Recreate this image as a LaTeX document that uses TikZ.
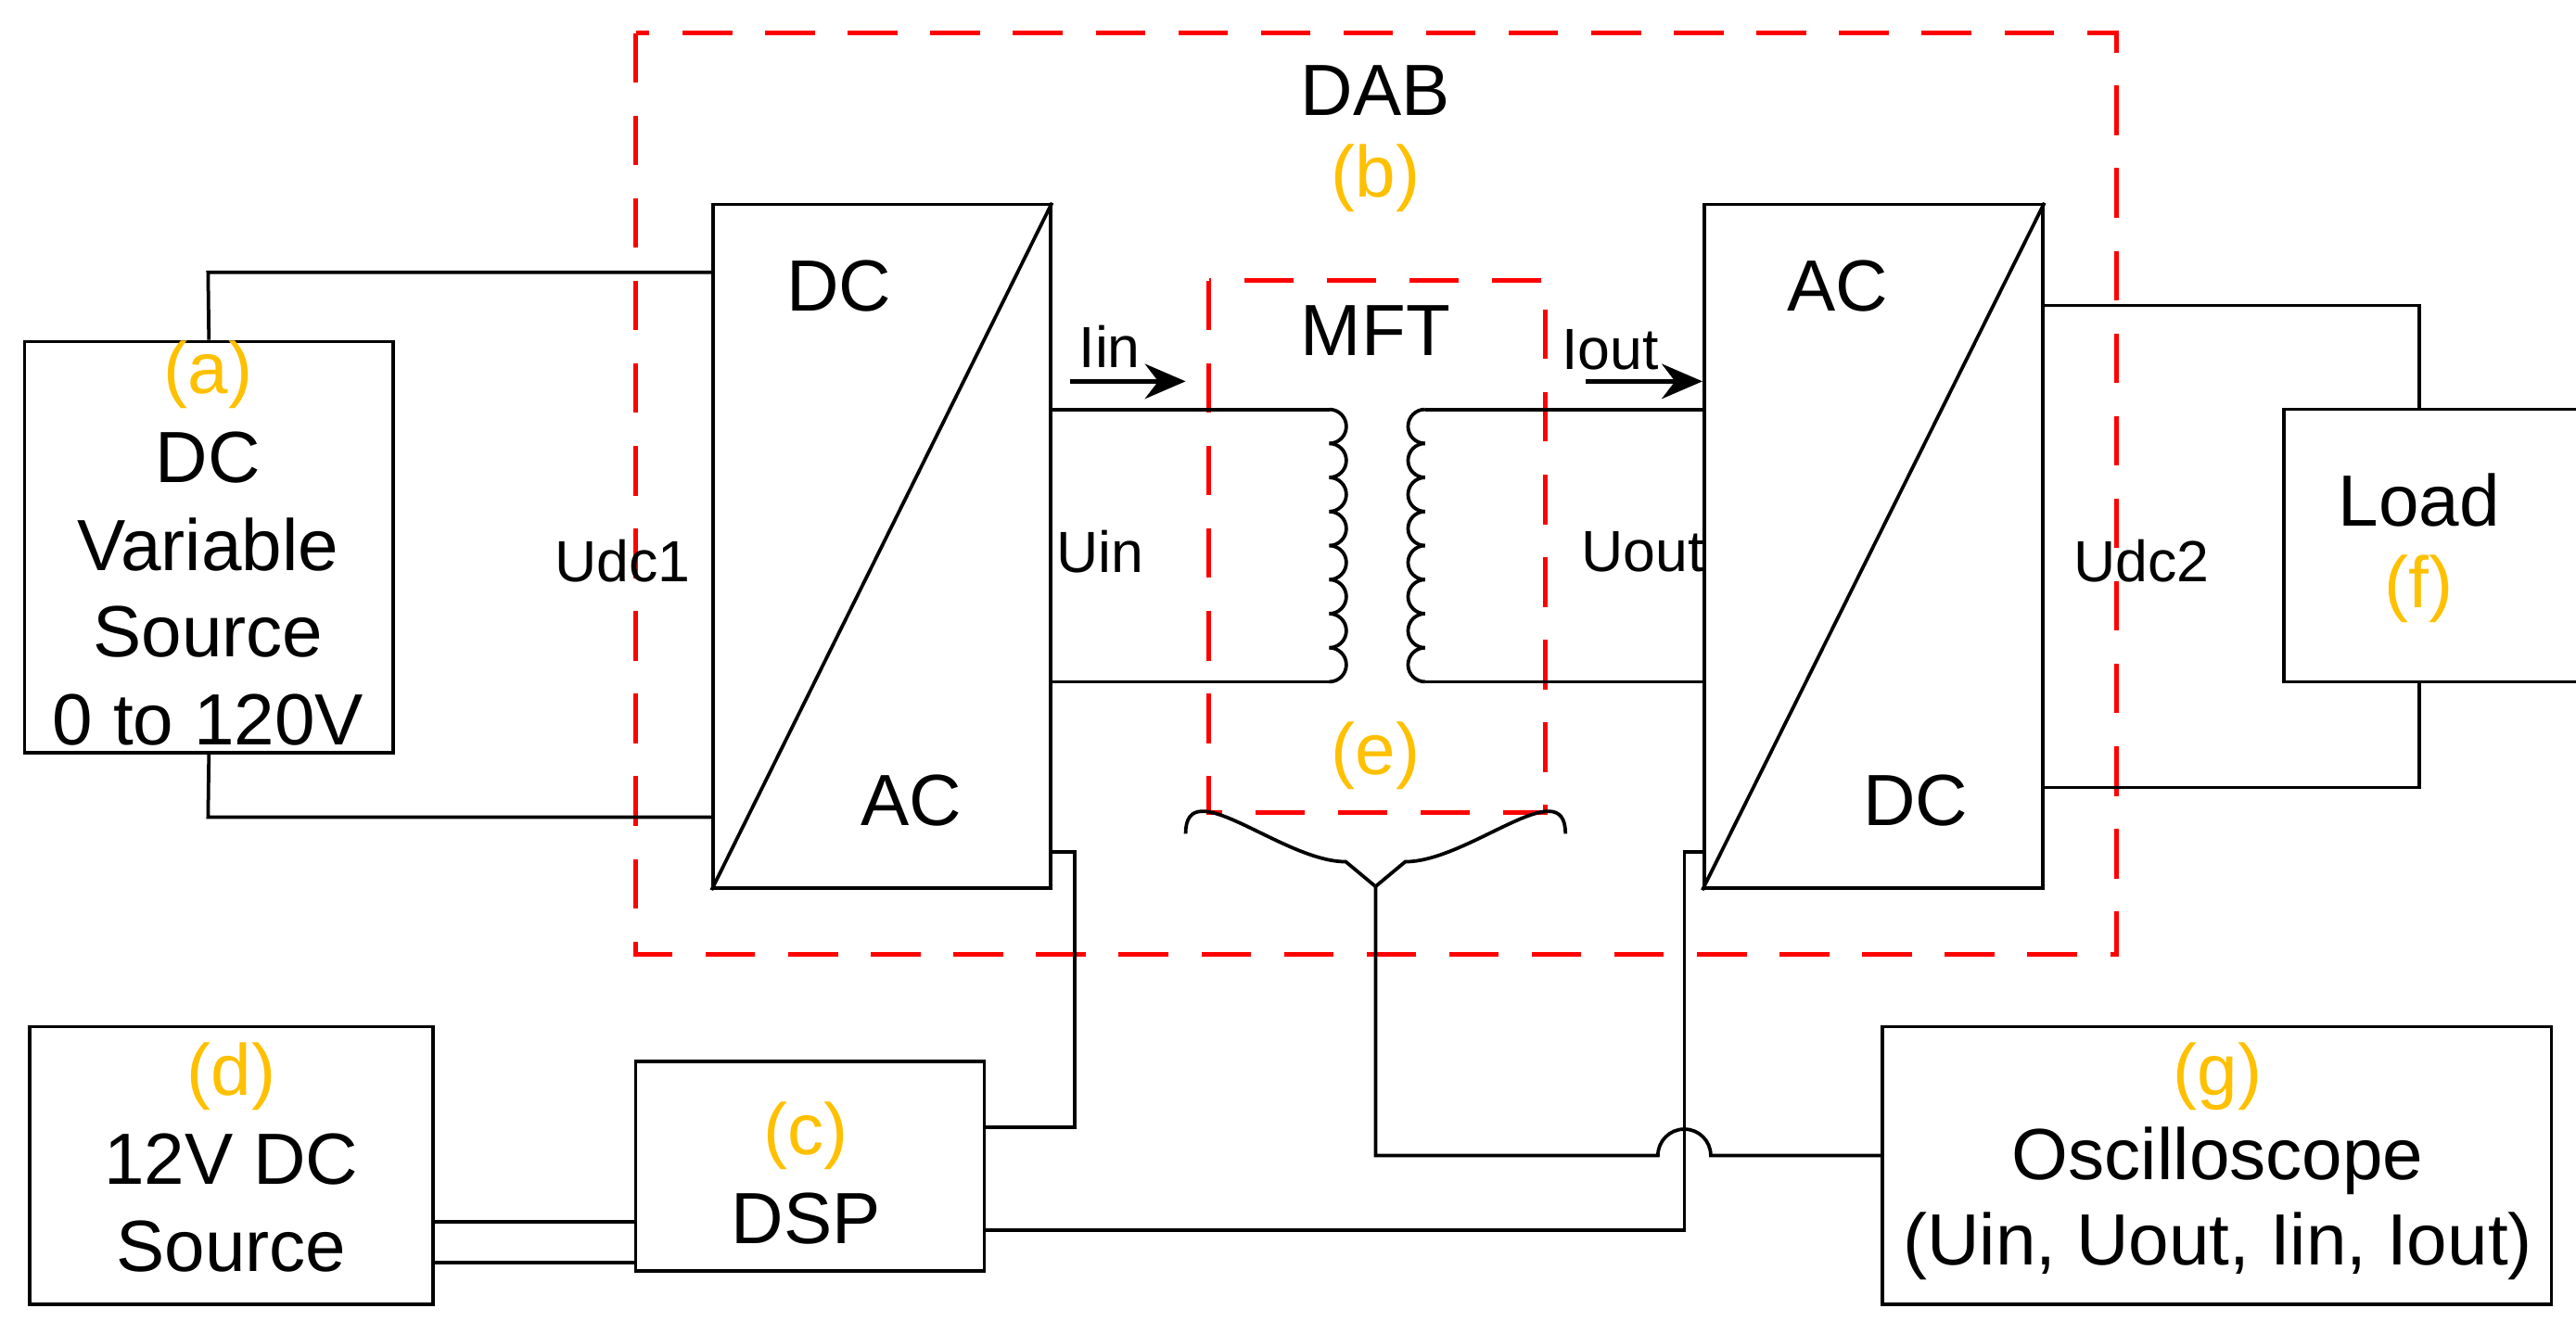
\documentclass[tikz,border=0pt]{standalone}
\usepackage{fontspec}
\setmainfont{Liberation Sans}
\usetikzlibrary{arrows.meta}
\definecolor{lab}{HTML}{FFC000}
\begin{document}
\begin{tikzpicture}[x=0.01cm,y=-0.01cm,line width=0.6pt,
  box/.style={draw,rectangle,inner sep=0pt},
  dab/.style={draw=red,line width=0.8pt,dash pattern=on 0.3cm off 0.2cm},
  big/.style={font=\fontsize{12.5}{14}\selectfont,inner sep=0pt},
  sm/.style={font=\fontsize{10}{12}\selectfont,inner sep=0pt},
  org/.style={big,text=lab},
  arr/.style={-{Stealth[length=7pt,width=6pt]},line width=0.8pt}]
\useasboundingbox (0,0) rectangle (1560,800);
% DAB and MFT dashed boxes
\draw[dab] (385,20) rectangle (1282,578);
\draw[dab] (732,170) rectangle (936,492);
% boxes
\node[box,minimum width=2.23cm,minimum height=2.49cm] (src) at (126.5,331.5) {};
\node[box,minimum width=2.04cm,minimum height=4.14cm] (c1) at (534,331) {};
\node[box,minimum width=2.05cm,minimum height=4.14cm] (c2) at (1134.5,331) {};
\node[box,minimum width=1.80cm,minimum height=1.65cm] (load) at (1473,330.5) {};
\node[box,minimum width=2.44cm,minimum height=1.68cm] (v12) at (140,706) {};
\node[box,minimum width=2.11cm,minimum height=1.27cm] (dsp) at (490.5,706.5) {};
\node[box,minimum width=4.05cm,minimum height=1.68cm] (osc) at (1342.5,706) {};
\draw (c1.south west) -- (c1.north east);
\draw (c2.south west) -- (c2.north east);
% texts
\node[big] at (833,55) {DAB};
\node[org] at (833,108) {(b)};
\node[big] at (508,173) {DC};
\node[big] at (552,485) {AC};
\node[big] at (1113,173) {AC};
\node[big] at (1160,485) {DC};
\node[big] at (833,200) {MFT};
\node[org] at (833,458) {(e)};
\node[org] at (126,227) {(a)};
\node[big] at (126,277) {DC};
\node[big] at (126,330) {Variable};
\node[big] at (126,383) {Source};
\node[big] at (126,436) {0 to 120V};
\node[big] at (1465,303) {Load};
\node[org] at (1465,357) {(f)};
\node[org] at (140,652) {(d)};
\node[big] at (140,702) {12V DC};
\node[big] at (140,755) {Source};
\node[org] at (488,688) {(c)};
\node[big] at (488,738) {DSP};
\node[org] at (1343,652) {(g)};
\node[big] at (1343,703) {Oscilloscope};
\node[big] at (1343,755) {(Uin, Uout, Iin, Iout)};
\node[sm] at (377,340) {Udc1};
\node[sm] at (666,334) {Uin};
\node[sm] at (995,334) {Uout};
\node[sm] at (1297,340) {Udc2};
\node[sm] at (672,210) {Iin};
\node[sm] at (975,212) {Iout};
% source wires
\coordinate (s1) at (126,165); \coordinate (s2) at (126,495);
\draw (src.north) -- (s1) -- (s1 -| c1.west);
\draw (src.south) -- (s2) -- (s2 -| c1.west);
% load wires
\coordinate (l1) at (1465,185); \coordinate (l2) at (1465,477);
\draw (l1 -| c2.east) -- (l1) -- (l1 |- load.north);
\draw (l2 -| c2.east) -- (l2) -- (l2 |- load.south);
% transformer
\coordinate (p1) at (805,248); \coordinate (p2) at (805,413);
\coordinate (q1) at (863,248); \coordinate (q2) at (863,413);
\draw (p1 -| c1.east) -- (p1);
\draw (p2 -| c1.east) -- (p2);
\draw (q1) -- (q1 -| c2.west);
\draw (q2) -- (q2 -| c2.west);
\foreach \i in {0,...,7}{
  \draw (805,248+20.625*\i) arc[start angle=90,end angle=-90,radius=0.103cm];
  \draw (863,248+20.625*\i) arc[start angle=90,end angle=270,radius=0.103cm];
}
% current arrows
\coordinate (a1) at (648,231); \coordinate (a2) at (718,231);
\draw[arr] (a1) -- (a2);
\coordinate (b1) at (960,231); \coordinate (b2) at (1031,231);
\draw[arr] (b1) -- (b2);
% brace
\coordinate (bt) at (833,537);
\draw (718,505) to[out=90,in=180] (815,522) -- (bt) -- (851,522) to[out=0,in=90] (948,505);
\coordinate (o1) at (833,700);
\draw (bt) -- (o1) -- (1004,700) arc[start angle=180,end angle=0,radius=0.16cm] -- (o1 -| osc.west);
% control wires
\coordinate (d1) at (651,516); \coordinate (d2) at (651,683);
\draw (d1 -| c1.east) -- (d1) -- (d2) -- (d2 -| dsp.east);
\coordinate (e1) at (1020,516); \coordinate (e2) at (1020,745);
\draw (e1 -| c2.west) -- (e1) -- (e2) -- (e2 -| dsp.east);
% double line
\coordinate (f1) at (262,740); \coordinate (f2) at (262,765);
\draw (f1) -- (f1 -| dsp.west);
\draw (f2) -- (f2 -| dsp.west);
\end{tikzpicture}
\end{document}
